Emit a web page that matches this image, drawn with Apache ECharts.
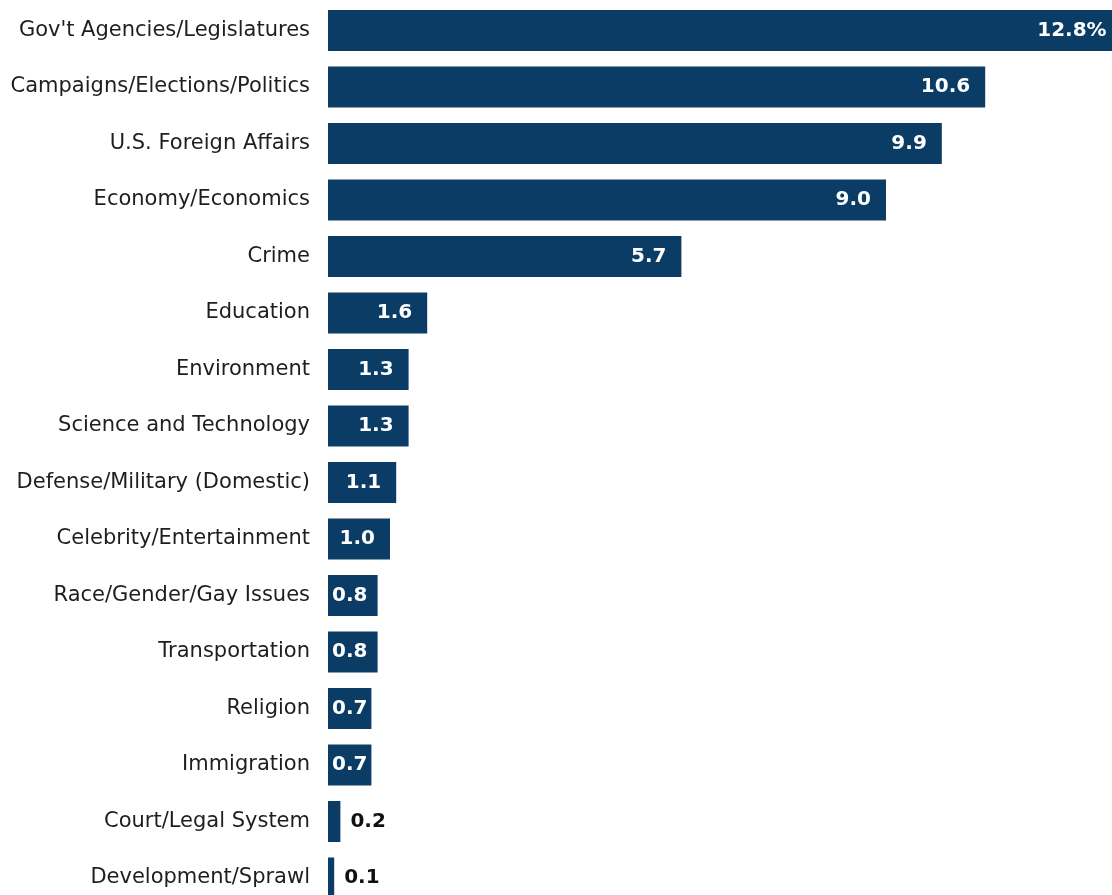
<!DOCTYPE html>
<html>
<head>
<meta charset="utf-8">
<script src="https://cdn.jsdelivr.net/npm/echarts@6/dist/echarts.min.js"></script>
<style>html,body{margin:0;padding:0;background:#fff;}#c{width:1112px;height:895px;}</style>
</head>
<body>
<div id="c"></div>
<script>
var categories = ["Gov't Agencies/Legislatures","Campaigns/Elections/Politics","U.S. Foreign Affairs","Economy/Economics","Crime","Education","Environment","Science and Technology","Defense/Military (Domestic)","Celebrity/Entertainment","Race/Gender/Gay Issues","Transportation","Religion","Immigration","Court/Legal System","Development/Sprawl"];
var values = [12.8, 10.6, 9.9, 9.0, 5.7, 1.6, 1.3, 1.3, 1.1, 1.0, 0.8, 0.8, 0.7, 0.7, 0.2, 0.1];

var BAR = '#0b3c65';
var data = values.map(function(v, i){
  var lab;
  if (v < 0.5) {
    lab = {show:true, position:'right', distance:10, color:'#111'};
  } else if (v < 1) {
    lab = {show:true, position:'insideLeft', distance:4, color:'#fff'};
  } else {
    lab = {show:true, position:'insideRight', distance:15, color:'#fff'};
  }
  return {value:v, label:lab};
});

var chart = echarts.init(document.getElementById('c'), null, {renderer:'canvas'});
chart.setOption({
  animation:false,
  backgroundColor:'#fff',
  grid:{left:328, top:2.25, width:806, height:904, containLabel:false, outerBoundsMode:'none'},
  xAxis:{type:'value', min:0, max:13, show:false},
  yAxis:{type:'category', data:categories, inverse:true,
    axisLine:{show:false}, axisTick:{show:false}, splitLine:{show:false},
    axisLabel:{margin:18, fontFamily:'DejaVu Sans', fontSize:21, color:'#1e1e1e'}},
  series:[{type:'bar', data:data, barWidth:41, itemStyle:{color:BAR},
    label:{fontFamily:'DejaVu Sans', fontWeight:'bold', fontSize:20,
      formatter:function(p){ return values[p.dataIndex].toFixed(1) + (p.dataIndex===0?'%':''); }}}]
});
</script>
</body>
</html>
